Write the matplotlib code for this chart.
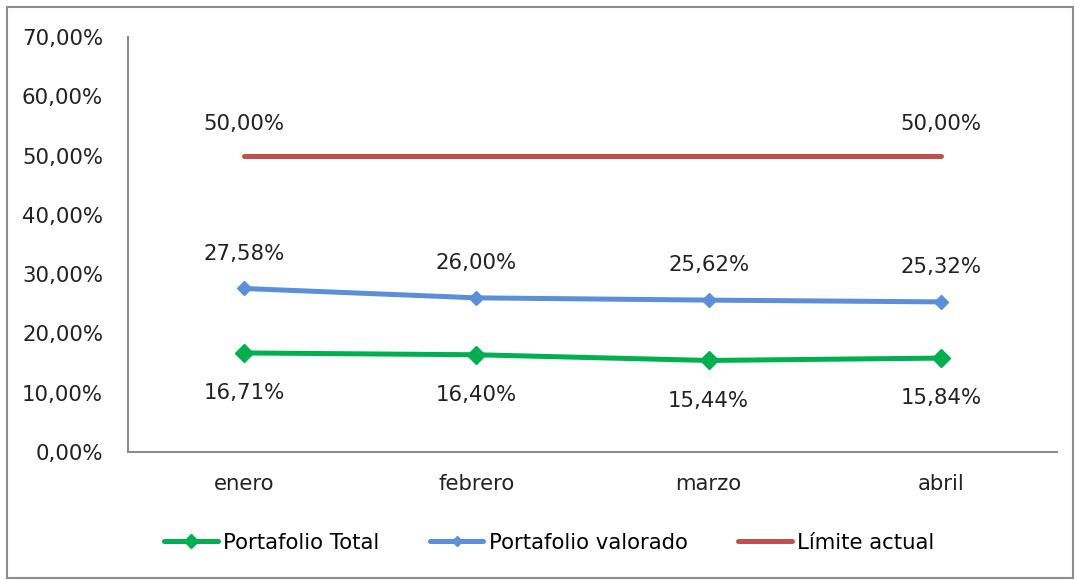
import matplotlib
matplotlib.use("Agg")
import matplotlib.pyplot as plt
from matplotlib.patches import Rectangle

# datos
meses = ["enero", "febrero", "marzo", "abril"]
portafolio_total = [16.71, 16.40, 15.44, 15.84]
portafolio_valorado = [27.58, 26.00, 25.62, 25.32]
limite_actual = [50.0, 50.0, 50.0, 50.0]
y_ticks = [0, 10, 20, 30, 40, 50, 60, 70]

verde = "#00B050"
azul = "#5B8FD9"
rojo = "#C0504D"
gris = "#8C8C8C"

plt.rcParams["font.family"] = ["DejaVu Sans"]
fs = 15.3


def pct(v):
    return f"{v:.2f}%".replace(".", ",")


fig = plt.figure(figsize=(10.75, 5.8), dpi=100)
ax = fig.add_axes([0.1191, 0.2207, 0.8642, 0.7155])

x = list(range(len(meses)))
l1, = ax.plot(x, portafolio_total, color=verde, lw=3.6, marker="D", ms=9.5,
              label="Portafolio Total", solid_capstyle="round")
l2, = ax.plot(x, portafolio_valorado, color=azul, lw=3.6, marker="D", ms=7,
              label="Portafolio valorado", solid_capstyle="round")
l3, = ax.plot(x, limite_actual, color=rojo, lw=3.6,
              label="Límite actual", solid_capstyle="round")

# etiquetas de datos
for xi, v in zip(x, portafolio_valorado):
    ax.annotate(pct(v), (xi, v), xytext=(0, 25), textcoords="offset points",
                ha="center", va="center", fontsize=fs, color="#222222")
for xi, v in zip(x, portafolio_total):
    ax.annotate(pct(v), (xi, v), xytext=(0, -29), textcoords="offset points",
                ha="center", va="center", fontsize=fs, color="#222222")
for xi in (0, len(x) - 1):
    ax.annotate(pct(limite_actual[xi]), (xi, limite_actual[xi]), xytext=(0, 23),
                textcoords="offset points", ha="center", va="center",
                fontsize=fs, color="#222222")

ax.set_xlim(-0.5, len(meses) - 0.5)
ax.set_ylim(0, 70)
ax.set_yticks(y_ticks)
ax.set_yticklabels([pct(t) for t in y_ticks])
ax.set_xticks(x)
ax.set_xticklabels(meses)
ax.tick_params(axis="both", length=0, labelsize=fs, colors="#222222")
ax.tick_params(axis="y", pad=18)
ax.tick_params(axis="x", pad=16)
for s in ("top", "right"):
    ax.spines[s].set_visible(False)
for s in ("left", "bottom"):
    ax.spines[s].set_color(gris)
    ax.spines[s].set_linewidth(1.5)

leg = fig.legend(handles=[l1, l2, l3], loc="center", bbox_to_anchor=(0.511, 0.064),
                 ncol=3, frameon=False, fontsize=fs, handlelength=2.5,
                 handletextpad=0.25, columnspacing=2.4, markerscale=0.7)

# borde del grafico
fig.patches.append(Rectangle((7 / 1075, 2 / 580), 1066 / 1075, 571 / 580,
                             transform=fig.transFigure, fill=False,
                             edgecolor=gris, lw=1.5))

fig.savefig("out.png", dpi=100)
